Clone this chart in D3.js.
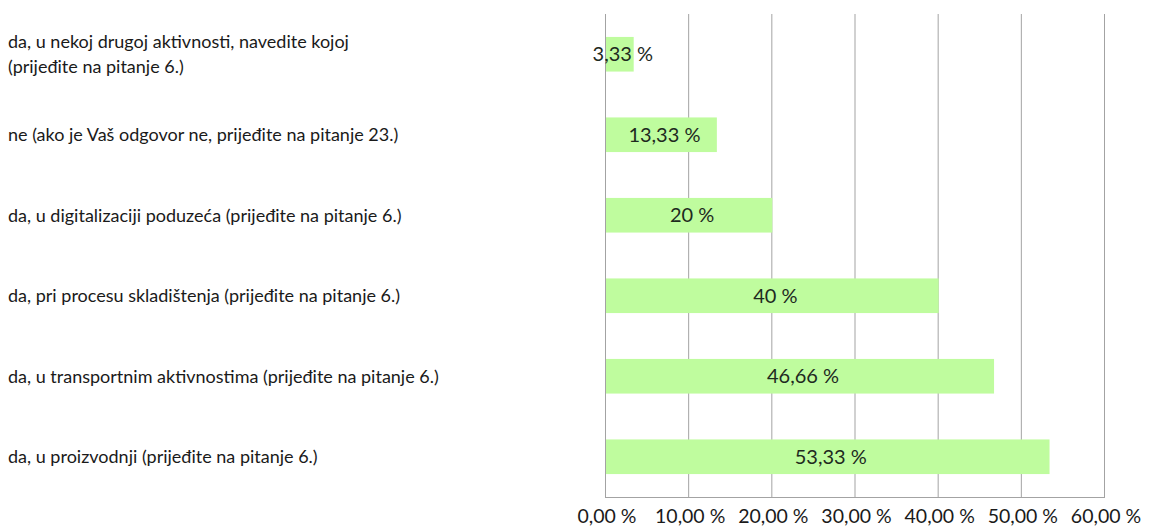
<!DOCTYPE html>
<html lang="hr">
  <head>
    <meta charset="UTF-8" />
    <title>Bar chart</title>
    <script src="https://d3js.org/d3.v7.min.js"></script>
    <style>
      body { margin: 0; background: #fff; }
      svg { font-family: Lato, "Open Sans", sans-serif; }
    </style>
  </head>
  <body>
    <div id="chart"></div>
    <script>
      // answers, top to bottom (lines split with \n)
      const categories = [
        "da, u nekoj drugoj aktivnosti, navedite kojoj\n(prijeđite na pitanje 6.)",
        "ne (ako je Vaš odgovor ne, prijeđite na pitanje 23.)",
        "da, u digitalizaciji poduzeća (prijeđite na pitanje 6.)",
        "da, pri procesu skladištenja (prijeđite na pitanje 6.)",
        "da, u transportnim aktivnostima (prijeđite na pitanje 6.)",
        "da, u proizvodnji (prijeđite na pitanje 6.)"
      ];
      const values = [3.33, 13.33, 20, 40, 46.66, 53.33];
      const ticks = [0, 10, 20, 30, 40, 50, 60];

      const width = 1151;
      const height = 529;
      const margin = { left: 605, right: 47, top: 14, bottom: 32 };

      const svg = d3
        .select("#chart")
        .append("svg")
        .attr("width", width)
        .attr("height", height);

      const x = d3
        .scaleLinear()
        .domain([0, 60])
        .range([margin.left, width - margin.right]);

      const y = d3
        .scaleBand()
        .domain(categories)
        .range([margin.top, height - margin.bottom])
        .paddingInner(0.57)
        .paddingOuter(0.285);

      const fmt = (v) => String(v).replace(".", ",") + " %";

      // gridlines
      svg
        .selectAll("line.grid")
        .data(ticks)
        .enter()
        .append("line")
        .attr("class", "grid")
        .attr("x1", (d) => x(d) + 0.5)
        .attr("x2", (d) => x(d) + 0.5)
        .attr("y1", margin.top)
        .attr("y2", height - margin.bottom)
        .attr("stroke", "#a3a3a3")
        .attr("stroke-width", 1);

      // bottom line
      svg
        .append("line")
        .attr("x1", x(0))
        .attr("x2", x(60) + 1)
        .attr("y1", height - margin.bottom + 0.5)
        .attr("y2", height - margin.bottom + 0.5)
        .attr("stroke", "#a3a3a3");

      // tick labels
      svg
        .selectAll("text.tick")
        .data(ticks)
        .enter()
        .append("text")
        .attr("class", "tick")
        .attr("x", (d) => x(d) + 2)
        .attr("y", height - 6)
        .attr("text-anchor", "middle")
        .attr("font-size", 19.5)
        .attr("fill", "#1a1a1a")
        .text((d) => d.toFixed(2).replace(".", ",") + " %");

      // bars
      svg
        .selectAll("rect.bar")
        .data(values)
        .enter()
        .append("rect")
        .attr("class", "bar")
        .attr("x", x(0) + 1)
        .attr("y", (d, i) => y(categories[i]))
        .attr("width", (d) => x(d) - x(0))
        .attr("height", y.bandwidth())
        .attr("fill", "#bffc9e");

      // value labels
      svg
        .selectAll("text.val")
        .data(values)
        .enter()
        .append("text")
        .attr("class", "val")
        .attr("x", (d) => (x(0) + x(d)) / 2 + 4)
        .attr("y", (d, i) => y(categories[i]) + y.bandwidth() / 2)
        .attr("dy", "0.36em")
        .attr("text-anchor", "middle")
        .attr("font-size", 20)
        .attr("fill", "#1e2a1e")
        .text(fmt);

      // category labels
      svg
        .selectAll("text.cat")
        .data(categories)
        .enter()
        .append("text")
        .attr("class", "cat")
        .attr("x", 8)
        .attr("font-size", 18)
        .attr("fill", "#1a1a1a")
        .each(function (d) {
          const lines = d.split("\n");
          const mid = y(d) + y.bandwidth() / 2;
          const lh = 25;
          lines.forEach((line, k) => {
            d3.select(this)
              .append("tspan")
              .attr("x", 8)
              .attr("y", mid + (k - (lines.length - 1) / 2) * lh)
              .attr("dy", "0.35em")
              .text(line);
          });
        });
    </script>
  </body>
</html>
